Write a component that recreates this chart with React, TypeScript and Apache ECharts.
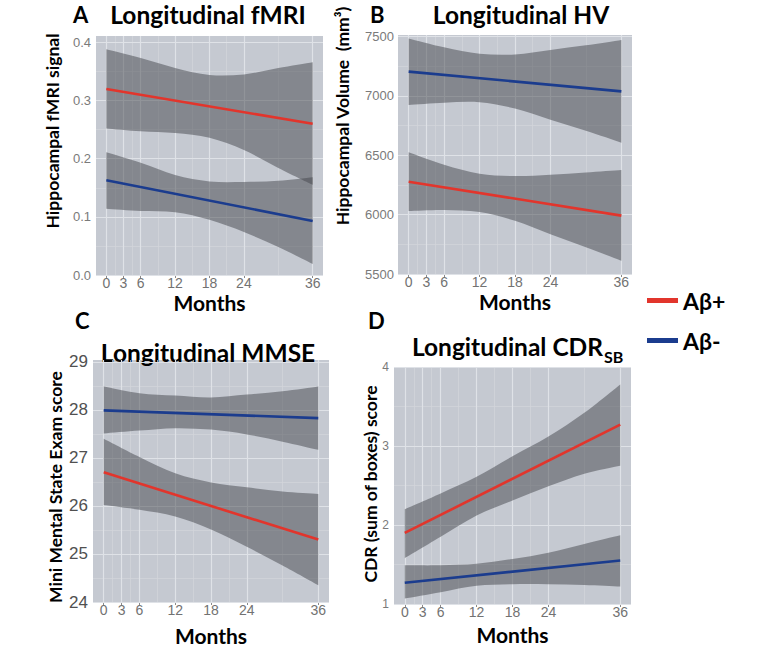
import React, { useEffect, useRef } from 'react';
import * as echarts from 'echarts';

// ---------- shared axes ----------
const ribbonMonths = [0, 6, 12, 18, 24, 30, 36];
const lineMonths = [0, 36];
const monthBreaks = [0, 3, 6, 12, 18, 24, 36];
const monthMinor = [1.5, 4.5, 9, 15, 21, 30];

// ---------- A: Longitudinal fMRI ----------
const fmriTicks = [0, 0.1, 0.2, 0.3, 0.4];
const fmriMinor = [0.05, 0.15, 0.25, 0.35];
const fmriPosFit = [0.32, 0.26];
const fmriPosUpper = [0.388, 0.373, 0.356, 0.344, 0.345, 0.356, 0.366];
const fmriPosLower = [0.252, 0.247, 0.244, 0.236, 0.215, 0.184, 0.155];
const fmriNegFit = [0.163, 0.093];
const fmriNegUpper = [0.211, 0.193, 0.172, 0.161, 0.16, 0.162, 0.168];
const fmriNegLower = [0.114, 0.11, 0.108, 0.095, 0.074, 0.048, 0.019];

// ---------- B: Longitudinal HV ----------
const hvTicks = [5500, 6000, 6500, 7000, 7500];
const hvMinor = [5750, 6250, 6750, 7250];
const hvPosFit = [6278, 5992];
const hvPosUpper = [6525, 6420, 6345, 6325, 6337, 6355, 6376];
const hvPosLower = [6031, 6040, 6022, 5948, 5835, 5725, 5612];
const hvNegFit = [7205, 7039];
const hvNegUpper = [7485, 7410, 7356, 7350, 7388, 7427, 7472];
const hvNegLower = [6925, 6944, 6948, 6894, 6800, 6707, 6607];

// ---------- C: Longitudinal MMSE ----------
const mmseTicks = [24, 25, 26, 27, 28, 29];
const mmseMinor = [24.5, 25.5, 26.5, 27.5, 28.5];
const mmsePosFit = [26.7, 25.3];
const mmsePosUpper = [27.4, 27.02, 26.68, 26.49, 26.39, 26.3, 26.25];
const mmsePosLower = [26.02, 25.92, 25.78, 25.51, 25.15, 24.76, 24.35];
const mmseNegFit = [27.99, 27.83];
const mmseNegUpper = [28.49, 28.35, 28.3, 28.26, 28.32, 28.39, 28.49];
const mmseNegLower = [27.51, 27.57, 27.62, 27.59, 27.49, 27.34, 27.17];

// ---------- D: Longitudinal CDR-SB ----------
const cdrTicks = [1, 2, 3, 4];
const cdrMinor = [1.5, 2.5, 3.5];
const cdrPosFit = [1.9, 3.27];
const cdrPosUpper = [2.2, 2.4, 2.61, 2.87, 3.12, 3.42, 3.78];
const cdrPosLower = [1.58, 1.85, 2.12, 2.31, 2.49, 2.65, 2.75];
const cdrNegFit = [1.27, 1.55];
const cdrNegUpper = [1.49, 1.49, 1.51, 1.57, 1.65, 1.76, 1.87];
const cdrNegLower = [1.07, 1.15, 1.23, 1.25, 1.25, 1.24, 1.22];

const groupNames = ['Aβ+', 'Aβ-'];

const RED = '#e2352c';
const BLUE = '#1b3c8e';
const RIBBON_FILL = 'rgba(68,70,76,0.5)';
const PANEL_BG = '#c5c9d1';
const GRID_MAJOR = '#dfe2e7';
const GRID_MINOR = '#d2d5db';
const TITLE_FONT = 'Lato, "Open Sans", sans-serif';
const TICK_FONT = '"Liberation Sans", Arial, sans-serif';

type Band = { fit: number[]; upper: number[]; lower: number[] };
type Panel = {
  grid: { left: number; top: number; width: number; height: number };
  xMin: number;
  xMax: number;
  yMin: number;
  yMax: number;
  yTicks: number[];
  yMinor: number[];
  fmt: (v: number) => string;
  yLabelSize: number;
  yLabelColor: string;
  yLabelMargin: number;
  monthsGap: number;
  pos: Band;
  neg: Band;
};

const panels: Panel[] = [
  {
    grid: { left: 96, top: 36, width: 227, height: 239 },
    xMin: -1.8, xMax: 37.8, yMin: 0, yMax: 0.411,
    yTicks: fmriTicks, yMinor: fmriMinor, fmt: (v) => v.toFixed(1),
    yLabelSize: 13, yLabelColor: '#7a7a7a', yLabelMargin: 5, monthsGap: 17,
    pos: { fit: fmriPosFit, upper: fmriPosUpper, lower: fmriPosLower },
    neg: { fit: fmriNegFit, upper: fmriNegUpper, lower: fmriNegLower },
  },
  {
    grid: { left: 398, top: 35, width: 234, height: 239 },
    xMin: -1.8, xMax: 37.8, yMin: 5500, yMax: 7514,
    yTicks: hvTicks, yMinor: hvMinor, fmt: (v) => String(v),
    yLabelSize: 13, yLabelColor: '#7a7a7a', yLabelMargin: 4, monthsGap: 17,
    pos: { fit: hvPosFit, upper: hvPosUpper, lower: hvPosLower },
    neg: { fit: hvNegFit, upper: hvNegUpper, lower: hvNegLower },
  },
  {
    grid: { left: 93, top: 360, width: 236, height: 242 },
    xMin: -1.8, xMax: 37.8, yMin: 24, yMax: 29.04,
    yTicks: mmseTicks, yMinor: mmseMinor, fmt: (v) => String(v),
    yLabelSize: 17, yLabelColor: '#505050', yLabelMargin: 5, monthsGap: 23,
    pos: { fit: mmsePosFit, upper: mmsePosUpper, lower: mmsePosLower },
    neg: { fit: mmseNegFit, upper: mmseNegUpper, lower: mmseNegLower },
  },
  {
    grid: { left: 394, top: 367, width: 237, height: 237 },
    xMin: -1.8, xMax: 37.8, yMin: 1, yMax: 4,
    yTicks: cdrTicks, yMinor: cdrMinor, fmt: (v) => String(v),
    yLabelSize: 12, yLabelColor: '#7a7a7a', yLabelMargin: 5, monthsGap: 20,
    pos: { fit: cdrPosFit, upper: cdrPosUpper, lower: cdrPosLower },
    neg: { fit: cdrNegFit, upper: cdrNegUpper, lower: cdrNegLower },
  },
];

function gridLines(p: Panel) {
  const items: any[] = [];
  monthMinor.forEach((v) => items.push({ xAxis: v, lineStyle: { color: GRID_MINOR, width: 0.7, type: 'solid' } }));
  p.yMinor.forEach((v) => items.push({ yAxis: v, lineStyle: { color: GRID_MINOR, width: 0.7, type: 'solid' } }));
  monthBreaks.forEach((v) => items.push({ xAxis: v, lineStyle: { color: GRID_MAJOR, width: 1.2, type: 'solid' } }));
  p.yTicks.forEach((v) => items.push({ yAxis: v, lineStyle: { color: GRID_MAJOR, width: 1.2, type: 'solid' } }));
  return items;
}

// Catmull-Rom -> cubic Bezier segments through pixel points
function curveThrough(pts: number[][], start: boolean) {
  let d = start ? `M${pts[0][0]},${pts[0][1]}` : `L${pts[0][0]},${pts[0][1]}`;
  for (let i = 0; i < pts.length - 1; i++) {
    const p0 = pts[Math.max(0, i - 1)];
    const p1 = pts[i];
    const p2 = pts[i + 1];
    const p3 = pts[Math.min(pts.length - 1, i + 2)];
    const c1x = p1[0] + (p2[0] - p0[0]) / 6;
    const c1y = p1[1] + (p2[1] - p0[1]) / 6;
    const c2x = p2[0] - (p3[0] - p1[0]) / 6;
    const c2y = p2[1] - (p3[1] - p1[1]) / 6;
    d += ` C${c1x},${c1y} ${c2x},${c2y} ${p2[0]},${p2[1]}`;
  }
  return d;
}

function ribbon(idx: number, band: Band) {
  return {
    type: 'custom',
    xAxisIndex: idx,
    yAxisIndex: idx,
    silent: true,
    z: 2,
    data: ribbonMonths.map((m, i) => [m, band.lower[i], band.upper[i]]),
    encode: { x: 0, y: [1, 2] },
    renderItem: (params: any, api: any) => {
      if (params.dataIndex !== 0) return null;
      const up = ribbonMonths.map((m, i) => api.coord([m, band.upper[i]]));
      const lo = ribbonMonths.map((m, i) => api.coord([m, band.lower[i]])).reverse();
      const d = curveThrough(up, true) + ' ' + curveThrough(lo, false) + ' Z';
      return {
        type: 'path',
        shape: { pathData: d },
        style: { fill: RIBBON_FILL, stroke: 'none' },
      };
    },
  };
}

function fitLine(idx: number, name: string, fit: number[], color: string, grid: Panel | null) {
  const s: any = {
    type: 'line',
    name,
    xAxisIndex: idx,
    yAxisIndex: idx,
    data: lineMonths.map((m, i) => [m, fit[i]]),
    symbol: 'none',
    silent: true,
    lineStyle: { color, width: 2.6 },
    itemStyle: { color },
    z: 4,
  };
  if (grid) {
    s.markLine = {
      silent: true,
      symbol: ['none', 'none'],
      label: { show: false },
      z: 1,
      animation: false,
      emphasis: { disabled: true },
      data: gridLines(grid),
    };
  }
  return s;
}

function buildOption() {
  const grids = panels.map((p) => ({
    ...p.grid,
    show: true,
    backgroundColor: PANEL_BG,
    borderWidth: 0,
    containLabel: false,
  }));
  const xAxes = panels.map((p, i) => ({
    type: 'value',
    gridIndex: i,
    min: p.xMin,
    max: p.xMax,
    name: 'Months',
    nameLocation: 'middle',
    nameGap: p.monthsGap,
    nameTextStyle: { fontFamily: TITLE_FONT, fontWeight: 'bold', fontSize: 21, color: '#000' },
    axisLine: { show: false },
    axisTick: { show: true, length: 3, lineStyle: { color: '#8a8a8a' }, customValues: monthBreaks },
    axisLabel: {
      customValues: monthBreaks,
      color: '#727272',
      fontSize: 14,
      fontFamily: TICK_FONT,
      margin: 1,
    },
    splitLine: { show: false },
  }));
  const yAxes = panels.map((p, i) => ({
    type: 'value',
    gridIndex: i,
    min: p.yMin,
    max: p.yMax,
    axisLine: { show: false },
    axisTick: { show: true, length: 3, lineStyle: { color: '#8a8a8a' }, customValues: p.yTicks },
    axisLabel: {
      customValues: p.yTicks,
      formatter: (v: number) => p.fmt(v),
      color: p.yLabelColor,
      fontSize: p.yLabelSize,
      fontFamily: TICK_FONT,
      margin: p.yLabelMargin,
    },
    splitLine: { show: false },
  }));
  const series: any[] = [];
  panels.forEach((p, i) => {
    series.push(ribbon(i, p.pos));
    series.push(ribbon(i, p.neg));
    series.push(fitLine(i, groupNames[0], p.pos.fit, RED, p));
    series.push(fitLine(i, groupNames[1], p.neg.fit, BLUE, null));
  });

  const bold = (size: number) => `bold ${size}px ${TITLE_FONT}`;
  const txt = (x: number, y: number, text: string, size: number, align = 'center', rotation = 0) => ({
    type: 'text',
    x,
    y,
    rotation,
    silent: true,
    style: { text, font: bold(size), fill: '#000', align, verticalAlign: 'middle' },
  });

  const graphic = [
    txt(73, 14, 'A', 22, 'left'),
    txt(370, 14, 'B', 22, 'left'),
    txt(75, 320, 'C', 22, 'left'),
    txt(368, 320, 'D', 22, 'left'),
    txt(208, 14, 'Longitudinal fMRI', 24.5),
    txt(521, 14, 'Longitudinal HV', 24.5),
    txt(208, 352, 'Longitudinal MMSE', 24.5),
    txt(603, 346, 'Longitudinal CDR', 24.5, 'right'),
    txt(604, 356, 'SB', 16, 'left'),
    txt(52, 131, 'Hippocampal fMRI signal', 17.5, 'center', Math.PI / 2),
    txt(342, 116, 'Hippocampal Volume  (mm³)', 17.5, 'center', Math.PI / 2),
    txt(55, 487, 'Mini Mental State Exam score', 17.5, 'center', Math.PI / 2),
    txt(370, 484, 'CDR (sum of boxes) score', 17.5, 'center', Math.PI / 2),
  ];

  return {
    animation: false,
    backgroundColor: '#ffffff',
    grid: grids,
    xAxis: xAxes,
    yAxis: yAxes,
    series,
    legend: {
      orient: 'vertical',
      left: 642,
      top: 284,
      itemWidth: 31,
      itemHeight: 5,
      itemGap: 17,
      icon: 'rect',
      selectedMode: false,
      data: groupNames,
      textStyle: { fontFamily: TITLE_FONT, fontWeight: 'bold', fontSize: 23, color: '#000' },
    },
    graphic,
  };
}

export default function App() {
  const ref = useRef<HTMLDivElement>(null);
  useEffect(() => {
    document.body.style.margin = '0';
    if (!ref.current) return;
    const chart = echarts.init(ref.current, undefined, { renderer: 'svg' });
    chart.setOption(buildOption() as any);
    return () => chart.dispose();
  }, []);
  return <div ref={ref} style={{ width: 761, height: 649 }} />;
}
